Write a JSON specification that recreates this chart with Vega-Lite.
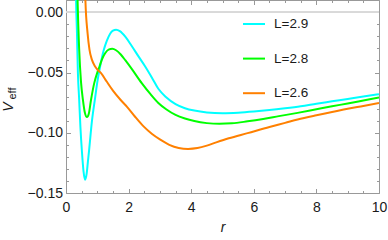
{
  "$schema": "https://vega.github.io/schema/vega-lite/v6.json",
  "width": 313,
  "height": 193,
  "autosize": {"type": "none"},
  "padding": {"left": 66, "top": 0, "right": 9, "bottom": 47},
  "config": {
    "view": {"stroke": null},
    "font": "Liberation Sans",
    "axis": {
      "grid": false,
      "domainColor": "#999999",
      "tickColor": "#999999",
      "labelFont": "Liberation Sans",
      "labelFontSize": 14,
      "labelColor": "#1a1a1a",
      "titleFont": "Liberation Sans",
      "titleColor": "#1a1a1a",
      "titleFontWeight": "normal",
      "labelFlush": false,
      "labelOverlap": false
    }
  },
  "data": {
    "values": [
      {"L": "L=2.9", "r": 0.30, "v": 0.05},
      {"L": "L=2.9", "r": 0.32, "v": 0.012},
      {"L": "L=2.9", "r": 0.35, "v": -0.017},
      {"L": "L=2.9", "r": 0.38, "v": -0.05},
      {"L": "L=2.9", "r": 0.42, "v": -0.072},
      {"L": "L=2.9", "r": 0.46, "v": -0.095},
      {"L": "L=2.9", "r": 0.51, "v": -0.116},
      {"L": "L=2.9", "r": 0.56, "v": -0.132},
      {"L": "L=2.9", "r": 0.61, "v": -0.139},
      {"L": "L=2.9", "r": 0.66, "v": -0.134},
      {"L": "L=2.9", "r": 0.70, "v": -0.124},
      {"L": "L=2.9", "r": 0.74, "v": -0.114},
      {"L": "L=2.9", "r": 0.83, "v": -0.09},
      {"L": "L=2.9", "r": 0.93, "v": -0.071},
      {"L": "L=2.9", "r": 1.00, "v": -0.058},
      {"L": "L=2.9", "r": 1.09, "v": -0.045},
      {"L": "L=2.9", "r": 1.20, "v": -0.032},
      {"L": "L=2.9", "r": 1.30, "v": -0.024},
      {"L": "L=2.9", "r": 1.41, "v": -0.0178},
      {"L": "L=2.9", "r": 1.50, "v": -0.0153},
      {"L": "L=2.9", "r": 1.60, "v": -0.0145},
      {"L": "L=2.9", "r": 1.72, "v": -0.0157},
      {"L": "L=2.9", "r": 1.90, "v": -0.0205},
      {"L": "L=2.9", "r": 2.10, "v": -0.028},
      {"L": "L=2.9", "r": 2.30, "v": -0.036},
      {"L": "L=2.9", "r": 2.53, "v": -0.045},
      {"L": "L=2.9", "r": 2.75, "v": -0.0545},
      {"L": "L=2.9", "r": 2.95, "v": -0.0635},
      {"L": "L=2.9", "r": 3.2, "v": -0.0705},
      {"L": "L=2.9", "r": 3.5, "v": -0.0762},
      {"L": "L=2.9", "r": 3.8, "v": -0.0796},
      {"L": "L=2.9", "r": 4.1, "v": -0.0816},
      {"L": "L=2.9", "r": 4.5, "v": -0.0831},
      {"L": "L=2.9", "r": 5.0, "v": -0.0837},
      {"L": "L=2.9", "r": 5.5, "v": -0.0833},
      {"L": "L=2.9", "r": 6.0, "v": -0.0824},
      {"L": "L=2.9", "r": 6.5, "v": -0.0812},
      {"L": "L=2.9", "r": 7.0, "v": -0.0797},
      {"L": "L=2.9", "r": 7.5, "v": -0.078},
      {"L": "L=2.9", "r": 8.0, "v": -0.0759},
      {"L": "L=2.9", "r": 8.5, "v": -0.0739},
      {"L": "L=2.9", "r": 9.0, "v": -0.0719},
      {"L": "L=2.9", "r": 9.5, "v": -0.0699},
      {"L": "L=2.9", "r": 10.0, "v": -0.068},
      {"L": "L=2.8", "r": 0.34, "v": 0.05},
      {"L": "L=2.8", "r": 0.37, "v": 0.01},
      {"L": "L=2.8", "r": 0.42, "v": -0.03},
      {"L": "L=2.8", "r": 0.48, "v": -0.058},
      {"L": "L=2.8", "r": 0.54, "v": -0.0725},
      {"L": "L=2.8", "r": 0.60, "v": -0.083},
      {"L": "L=2.8", "r": 0.67, "v": -0.087},
      {"L": "L=2.8", "r": 0.73, "v": -0.084},
      {"L": "L=2.8", "r": 0.80, "v": -0.0726},
      {"L": "L=2.8", "r": 0.90, "v": -0.059},
      {"L": "L=2.8", "r": 1.00, "v": -0.05},
      {"L": "L=2.8", "r": 1.07, "v": -0.045},
      {"L": "L=2.8", "r": 1.15, "v": -0.039},
      {"L": "L=2.8", "r": 1.25, "v": -0.034},
      {"L": "L=2.8", "r": 1.36, "v": -0.031},
      {"L": "L=2.8", "r": 1.48, "v": -0.0303},
      {"L": "L=2.8", "r": 1.60, "v": -0.0315},
      {"L": "L=2.8", "r": 1.75, "v": -0.035},
      {"L": "L=2.8", "r": 1.90, "v": -0.040},
      {"L": "L=2.8", "r": 2.10, "v": -0.047},
      {"L": "L=2.8", "r": 2.42, "v": -0.0588},
      {"L": "L=2.8", "r": 2.70, "v": -0.068},
      {"L": "L=2.8", "r": 2.95, "v": -0.0753},
      {"L": "L=2.8", "r": 3.2, "v": -0.0805},
      {"L": "L=2.8", "r": 3.5, "v": -0.0852},
      {"L": "L=2.8", "r": 3.8, "v": -0.0882},
      {"L": "L=2.8", "r": 4.1, "v": -0.0903},
      {"L": "L=2.8", "r": 4.5, "v": -0.092},
      {"L": "L=2.8", "r": 4.9, "v": -0.0926},
      {"L": "L=2.8", "r": 5.3, "v": -0.0922},
      {"L": "L=2.8", "r": 5.8, "v": -0.0905},
      {"L": "L=2.8", "r": 6.3, "v": -0.0885},
      {"L": "L=2.8", "r": 6.8, "v": -0.0862},
      {"L": "L=2.8", "r": 7.4, "v": -0.0835},
      {"L": "L=2.8", "r": 8.0, "v": -0.0805},
      {"L": "L=2.8", "r": 8.5, "v": -0.078},
      {"L": "L=2.8", "r": 9.0, "v": -0.0757},
      {"L": "L=2.8", "r": 9.5, "v": -0.0732},
      {"L": "L=2.8", "r": 10.0, "v": -0.0707},
      {"L": "L=2.6", "r": 0.58, "v": 0.05},
      {"L": "L=2.6", "r": 0.62, "v": 0.01},
      {"L": "L=2.6", "r": 0.69, "v": -0.0175},
      {"L": "L=2.6", "r": 0.75, "v": -0.031},
      {"L": "L=2.6", "r": 0.83, "v": -0.0395},
      {"L": "L=2.6", "r": 0.93, "v": -0.045},
      {"L": "L=2.6", "r": 1.02, "v": -0.048},
      {"L": "L=2.6", "r": 1.12, "v": -0.0505},
      {"L": "L=2.6", "r": 1.30, "v": -0.0575},
      {"L": "L=2.6", "r": 1.50, "v": -0.065},
      {"L": "L=2.6", "r": 1.74, "v": -0.0726},
      {"L": "L=2.6", "r": 1.95, "v": -0.0785},
      {"L": "L=2.6", "r": 2.2, "v": -0.0865},
      {"L": "L=2.6", "r": 2.47, "v": -0.0945},
      {"L": "L=2.6", "r": 2.75, "v": -0.101},
      {"L": "L=2.6", "r": 3.0, "v": -0.1055},
      {"L": "L=2.6", "r": 3.3, "v": -0.11},
      {"L": "L=2.6", "r": 3.6, "v": -0.1126},
      {"L": "L=2.6", "r": 3.9, "v": -0.1134},
      {"L": "L=2.6", "r": 4.2, "v": -0.1127},
      {"L": "L=2.6", "r": 4.5, "v": -0.1107},
      {"L": "L=2.6", "r": 4.8, "v": -0.108},
      {"L": "L=2.6", "r": 5.2, "v": -0.1046},
      {"L": "L=2.6", "r": 5.8, "v": -0.1003},
      {"L": "L=2.6", "r": 6.5, "v": -0.0952},
      {"L": "L=2.6", "r": 7.0, "v": -0.0918},
      {"L": "L=2.6", "r": 7.4, "v": -0.089},
      {"L": "L=2.6", "r": 8.0, "v": -0.0855},
      {"L": "L=2.6", "r": 8.5, "v": -0.0828},
      {"L": "L=2.6", "r": 9.0, "v": -0.08},
      {"L": "L=2.6", "r": 9.5, "v": -0.0777},
      {"L": "L=2.6", "r": 10.0, "v": -0.0753}
    ]
  },
  "resolve": {"axis": {"x": "independent", "y": "independent"}},
  "layer": [
    {
      "mark": {"type": "rule", "color": "#d9d9d9", "strokeWidth": 1},
      "encoding": {
        "y": {"datum": 0, "type": "quantitative", "scale": {"domain": [-0.15, 0.0102], "nice": false, "zero": false}, "axis": null}
      }
    },
    {
      "mark": {"type": "line", "strokeWidth": 2, "clip": true, "interpolate": "monotone"},
      "encoding": {
        "x": {"field": "r", "type": "quantitative", "scale": {"domain": [0, 10], "nice": false, "zero": false},
          "axis": {"orient": "bottom", "values": [0, 2, 4, 6, 8, 10], "format": "d", "tickSize": -4.5, "labelPadding": 12, "title": "r", "titleFontStyle": "italic", "titleFontSize": 14, "titlePadding": 6}},
        "y": {"field": "v", "type": "quantitative", "scale": {"domain": [-0.15, 0.0102], "nice": false, "zero": false},
          "axis": {"orient": "left", "values": [0, -0.05, -0.1, -0.15], "format": ".2f", "tickSize": -4.5, "labelPadding": 8, "title": "V", "titleFontStyle": "italic", "titleFontSize": 14, "titleAngle": -90, "titleX": -53.5, "titleY": 106.5, "titleAlign": "center", "titleBaseline": "alphabetic"}},
        "color": {"field": "L", "type": "nominal", "sort": null,
          "scale": {"domain": ["L=2.9", "L=2.8", "L=2.6"], "range": ["#00ffff", "#00ff00", "#ff8000"]},
          "legend": {"title": null, "orient": "none", "legendX": 176, "legendY": 12, "symbolType": "stroke", "symbolSize": 484, "symbolStrokeWidth": 2, "labelFontSize": 13.5, "labelFont": "Liberation Sans", "labelColor": "#1a1a1a", "labelOffset": 8, "rowPadding": 15.6, "padding": 0}}
      }
    },
    {
      "mark": {"type": "point", "opacity": 0, "size": 1},
      "encoding": {
        "x": {"field": "r", "type": "quantitative", "scale": {"domain": [0, 10], "nice": false, "zero": false},
          "axis": {"orient": "top", "values": [0, 2, 4, 6, 8, 10], "labels": false, "tickSize": -4.5, "title": null}},
        "y": {"field": "v", "type": "quantitative", "scale": {"domain": [-0.15, 0.0102], "nice": false, "zero": false},
          "axis": {"orient": "right", "values": [0, -0.05, -0.1, -0.15], "labels": false, "tickSize": -4.5, "title": null}}
      }
    },
    {
      "mark": {"type": "point", "opacity": 0, "size": 1},
      "encoding": {
        "x": {"field": "r", "type": "quantitative", "scale": {"domain": [0, 10], "nice": false, "zero": false},
          "axis": {"orient": "bottom", "values": [0.5, 1, 1.5, 2.5, 3, 3.5, 4.5, 5, 5.5, 6.5, 7, 7.5, 8.5, 9, 9.5], "labels": false, "domain": false, "tickSize": -2.5, "title": null}},
        "y": {"field": "v", "type": "quantitative", "scale": {"domain": [-0.15, 0.0102], "nice": false, "zero": false},
          "axis": {"orient": "left", "values": [-0.14, -0.13, -0.12, -0.11, -0.09, -0.08, -0.07, -0.06, -0.04, -0.03, -0.02, -0.01, 0.01], "labels": false, "domain": false, "tickSize": -2.5, "title": "eff", "titleFontSize": 11, "titleFontStyle": "normal", "titleAngle": -90, "titleX": -51, "titleY": 93, "titleAlign": "center", "titleBaseline": "alphabetic"}}
      }
    },
    {
      "mark": {"type": "point", "opacity": 0, "size": 1},
      "encoding": {
        "x": {"field": "r", "type": "quantitative", "scale": {"domain": [0, 10], "nice": false, "zero": false},
          "axis": {"orient": "top", "values": [0.5, 1, 1.5, 2.5, 3, 3.5, 4.5, 5, 5.5, 6.5, 7, 7.5, 8.5, 9, 9.5], "labels": false, "domain": false, "tickSize": -2.5, "title": null}},
        "y": {"field": "v", "type": "quantitative", "scale": {"domain": [-0.15, 0.0102], "nice": false, "zero": false},
          "axis": {"orient": "right", "values": [-0.14, -0.13, -0.12, -0.11, -0.09, -0.08, -0.07, -0.06, -0.04, -0.03, -0.02, -0.01, 0.01], "labels": false, "domain": false, "tickSize": -2.5, "title": null}}
      }
    }
  ]
}
